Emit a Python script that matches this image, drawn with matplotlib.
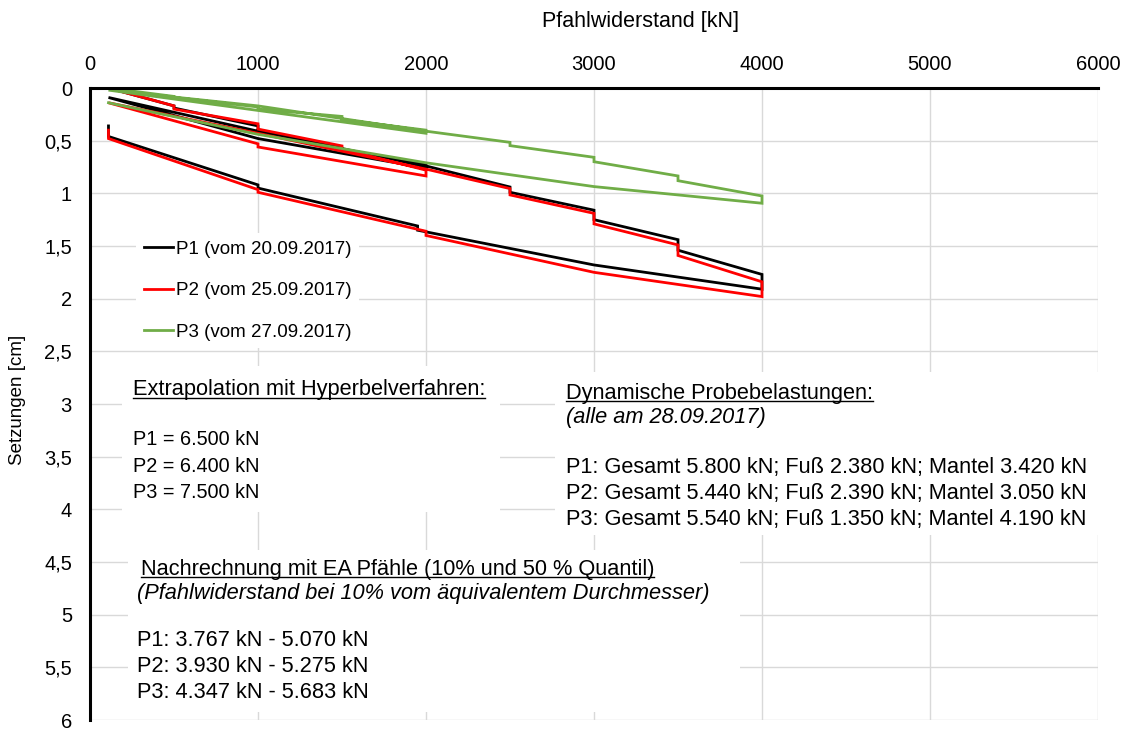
import numpy as np
import matplotlib.pyplot as plt
from matplotlib.patches import Rectangle
from matplotlib.lines import Line2D

plt.rcParams['font.family'] = ['Liberation Sans', 'DejaVu Sans']

#------ Daten ------#
# P1 (vom 20.09.2017)
p1_last = [110, 500, 500, 1000, 1000, 1500, 1500, 2000, 2000, 1000, 110,
           1000, 2000, 2500, 2500, 3000, 3000, 3500, 3500, 4000, 4000,
           3000, 1950, 1950, 1000, 1000, 110, 110]
p1_setz = [0.0, 0.17, 0.19, 0.36, 0.40, 0.57, 0.60, 0.72, 0.76, 0.48, 0.09,
           0.41, 0.74, 0.94, 0.99, 1.16, 1.25, 1.44, 1.54, 1.77, 1.91,
           1.68, 1.35, 1.31, 0.95, 0.92, 0.46, 0.36]

# P2 (vom 25.09.2017)
p2_last = [110, 500, 500, 1000, 1000, 1500, 1500, 2000, 2000, 1000, 1000, 110,
           1000, 2000, 2500, 2500, 3000, 3000, 3500, 3500, 4000, 4000,
           3000, 2000, 2000, 1000, 1000, 110, 110]
p2_setz = [0.0, 0.17, 0.20, 0.34, 0.39, 0.55, 0.58, 0.78, 0.835, 0.56, 0.53, 0.14,
           0.43, 0.77, 0.955, 1.015, 1.19, 1.29, 1.49, 1.59, 1.84, 1.98,
           1.75, 1.40, 1.36, 0.99, 0.965, 0.48, 0.40]

# P3 (vom 27.09.2017)
p3_last = [110, 500, 500, 1000, 1000, 1500, 1500, 2000, 2000, 110,
           1000, 2000, 2500, 2500, 3000, 3000, 3500, 3500, 4000, 4000,
           3000, 2000, 1000, 110]
p3_setz = [0.0, 0.08, 0.09, 0.18, 0.20, 0.27, 0.30, 0.40, 0.43, 0.02,
           0.17, 0.41, 0.516, 0.547, 0.658, 0.70, 0.835, 0.88, 1.025, 1.094,
           0.936, 0.71, 0.44, 0.14]

labels = ['P1 (vom 20.09.2017)', 'P2 (vom 25.09.2017)', 'P3 (vom 27.09.2017)']
colors = ['#000000', '#FF0000', '#70AD47']

x_ticks = [0, 1000, 2000, 3000, 4000, 5000, 6000]
y_ticks = [0, 0.5, 1, 1.5, 2, 2.5, 3, 3.5, 4, 4.5, 5, 5.5, 6]

extrapolation = ['P1 = 6.500 kN', 'P2 = 6.400 kN', 'P3 = 7.500 kN']
dynamisch = ['P1: Gesamt 5.800 kN; Fuß 2.380 kN; Mantel 3.420 kN',
             'P2: Gesamt 5.440 kN; Fuß 2.390 kN; Mantel 3.050 kN',
             'P3: Gesamt 5.540 kN; Fuß 1.350 kN; Mantel 4.190 kN']
nachrechnung = ['P1: 3.767 kN - 5.070 kN',
                'P2: 3.930 kN - 5.275 kN',
                'P3: 4.347 kN - 5.683 kN']
#-------------------------------#

W, H = 1125, 729
fs = 15.7      # Textfelder
fs_tick = 14.5


def px(x, y):
    # Pixelposition -> Figurkoordinaten
    return x / W, 1 - y / H


fig = plt.figure(figsize=(W / 100, H / 100), dpi=100)
ax = fig.add_axes([90 / W, 1 - 720 / H, 1008 / W, 632 / H])

for last, setz, lab, col in zip([p1_last, p2_last, p3_last],
                                [p1_setz, p2_setz, p3_setz], labels, colors):
    ax.plot(last, setz, color=col, lw=2, label=lab, solid_joinstyle='miter')

ax.set_xlim(0, 6000)
ax.set_ylim(6, 0)
ax.set_xticks(x_ticks)
ax.set_yticks(y_ticks)
ax.set_yticklabels([f'{v:g}'.replace('.', ',') for v in y_ticks])
ax.xaxis.tick_top()
ax.tick_params(axis='x', length=0, labelsize=fs_tick, pad=10)
ax.tick_params(axis='y', length=0, labelsize=fs_tick, pad=13)
ax.grid(color='#D9D9D9', lw=1)
ax.set_axisbelow(True)
for side in ['right', 'bottom']:
    ax.spines[side].set_visible(False)
for side in ['top', 'left']:
    ax.spines[side].set_linewidth(2.2)
    ax.spines[side].set_color('black')

fig.text(*px(640, 22), 'Pfahlwiderstand [kN]', fontsize=15.5, ha='center', va='center')
fig.text(*px(18, 400), 'Setzungen [cm]', fontsize=13.5, ha='center', va='center',
         rotation=90)

leg = ax.legend(loc='upper left', bbox_to_anchor=px(136, 233), bbox_transform=fig.transFigure,
                fontsize=13.5, frameon=True, facecolor='white', edgecolor='none',
                framealpha=1, fancybox=False, handlelength=1.55, handletextpad=0.2,
                labelspacing=1.3, borderpad=0.4, borderaxespad=0)

# weisse Hintergruende der Textfelder
for (x0, y0, x1, y1) in [(122, 366, 500, 512), (555, 372, 1098, 535), (128, 550, 740, 712)]:
    ax.add_patch(Rectangle(px(x0, y1), (x1 - x0) / W, (y1 - y0) / H, transform=fig.transFigure,
                           facecolor='white', edgecolor='none', zorder=1))

underlined = []
underlined.append(fig.text(*px(133, 390), 'Extrapolation mit Hyperbelverfahren:', fontsize=fs,
                           va='center'))
for i, t in enumerate(extrapolation):
    fig.text(*px(133, 440 + 26 * i), t, fontsize=14.3, va='center')

underlined.append(fig.text(*px(566, 393), 'Dynamische Probebelastungen:', fontsize=fs,
                           va='center'))
fig.text(*px(566, 418), '(alle am 28.09.2017)', fontsize=fs, va='center', style='italic')
for i, t in enumerate(dynamisch):
    fig.text(*px(566, 467 + 26 * i), t, fontsize=fs, va='center')

underlined.append(fig.text(*px(141, 569), 'Nachrechnung mit EA Pfähle (10% und 50 % Quantil)',
                           fontsize=fs, va='center'))
fig.text(*px(137, 593), '(Pfahlwiderstand bei 10% vom äquivalentem Durchmesser)', fontsize=fs,
         va='center', style='italic')
for i, t in enumerate(nachrechnung):
    fig.text(*px(137, 641 + 26 * i), t, fontsize=fs, va='center')

# Unterstreichungen
fig.canvas.draw()
for t in underlined:
    bb = t.get_window_extent()
    yl = (bb.y0 + 2.5) / H
    fig.add_artist(Line2D([bb.x0 / W, bb.x1 / W], [yl, yl], color='black', lw=1,
                          transform=fig.transFigure))

fig.savefig('out.png', dpi=100)
